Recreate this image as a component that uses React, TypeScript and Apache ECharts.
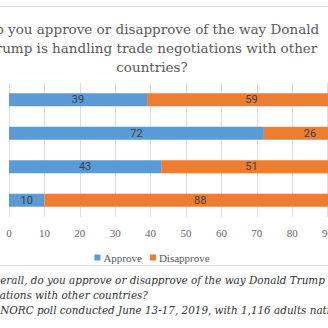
import React, { useEffect, useRef } from "react";
import * as echarts from "echarts";

const categories = ["All adults", "Republicans", "Independents", "Democrats"];
const approve = [39, 72, 43, 10];
const disapprove = [59, 26, 51, 88];
const seriesNames = ["Approve", "Disapprove"];
const titleText =
  "Do you approve or disapprove of the way Donald\nTrump is handling trade negotiations with other\ncountries?";
const noteLines = [
  "Overall, do you approve or disapprove of the way Donald Trump is handling trade",
  "negotiations with other countries?",
  "AP-NORC poll conducted June 13-17, 2019, with 1,116 adults nationwide.",
];

const OFFSET = -71;
const CW = 446;

export default function App() {
  const ref = useRef<HTMLDivElement>(null);
  useEffect(() => {
    const chart = echarts.init(ref.current!, null, { renderer: "svg" });
    const serif = "DejaVu Serif";
    const serif2 = "Liberation Serif";
    const noteFont = "italic 10.4px 'DejaVu Serif'";
    chart.setOption({
      animation: false,
      backgroundColor: "#ffffff",
      title: {
        text: titleText,
        left: "center",
        top: 14,
        textStyle: {
          fontFamily: serif,
          fontSize: 13.5,
          fontWeight: "normal",
          color: "#595959",
          lineHeight: 19,
        },
      },
      legend: {
        data: seriesNames,
        top: 247,
        left: "center",
        itemWidth: 6,
        itemHeight: 6,
        itemGap: 8,
        icon: "rect",
        textStyle: { fontFamily: serif2, fontSize: 11, color: "#595959", padding: [0, 0, 0, -2] },
      },
      grid: { left: 80, right: 12, top: 83, bottom: 111, containLabel: false },
      xAxis: {
        type: "value",
        min: 0,
        max: 100,
        interval: 10,
        axisLine: { show: false },
        axisTick: { show: false },
        splitLine: { lineStyle: { color: "#dddddd", width: 1 } },
        axisLabel: { fontFamily: serif2, fontSize: 11, color: "#666666", margin: 10 },
      },
      yAxis: {
        type: "category",
        data: categories,
        inverse: true,
        axisLine: { show: false },
        axisTick: { show: false },
        axisLabel: { show: false },
      },
      series: [
        {
          name: seriesNames[0],
          type: "bar",
          stack: "total",
          data: approve,
          barWidth: 13,
          itemStyle: { color: "#5b9bd5" },
          label: { show: true, position: "inside", color: "#404040", fontFamily: "Roboto", fontSize: 11 },
        },
        {
          name: seriesNames[1],
          type: "bar",
          stack: "total",
          data: disapprove,
          barWidth: 13,
          itemStyle: { color: "#ed7d31" },
          label: { show: true, position: "inside", color: "#404040", fontFamily: "Roboto", fontSize: 11 },
        },
      ],
      graphic: [
        { type: "line", shape: { x1: 0, y1: 6.5, x2: CW, y2: 6.5 }, style: { stroke: "#e0e0e0", lineWidth: 1 } },
        { type: "line", shape: { x1: 0, y1: 265.5, x2: CW, y2: 265.5 }, style: { stroke: "#e0e0e0", lineWidth: 1 } },
        { type: "text", x: 56.8, y: 280, style: { text: noteLines[0], font: noteFont, fill: "#333333", textVerticalAlign: "middle" } },
        { type: "text", x: 37.5, y: 295, style: { text: noteLines[1], font: noteFont, fill: "#333333", textVerticalAlign: "middle" } },
        { type: "text", x: 53.8, y: 310, style: { text: noteLines[2], font: noteFont, fill: "#333333", textVerticalAlign: "middle" } },
      ],
    });
    return () => chart.dispose();
  }, []);
  return (
    <div style={{ position: "fixed", left: 0, top: 0, width: 328, height: 328, overflow: "hidden", background: "#fff" }}>
      <div ref={ref} style={{ position: "absolute", left: OFFSET, top: 0, width: CW, height: 328 }} />
    </div>
  );
}
